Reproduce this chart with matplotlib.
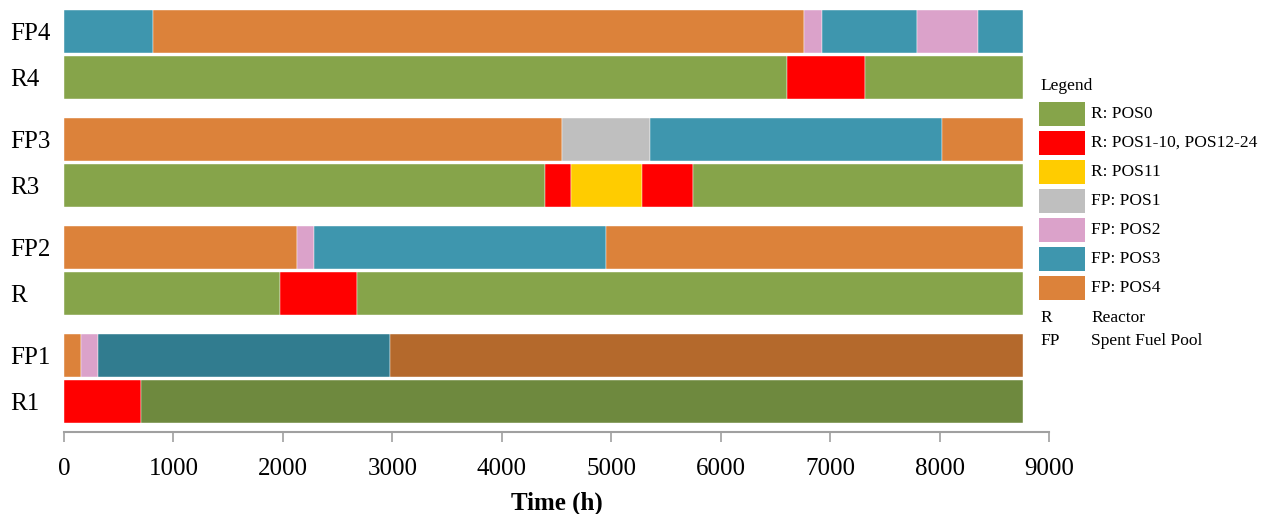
import matplotlib
matplotlib.use("Agg")
import matplotlib.pyplot as plt
from matplotlib.patches import Rectangle

# ---- data ----
rows = ["R1", "FP1", "R", "FP2", "R3", "FP3", "R4", "FP4"]
# segment boundaries (hours) per row
bounds = {
    "FP4": [0, 813, 6764, 6923, 7797, 8354, 8760],
    "R4":  [0, 6609, 7319, 8760],
    "FP3": [0, 4550, 5354, 8022, 8760],
    "R3":  [0, 4395, 4633, 5281, 5747, 8760],
    "FP2": [0, 2129, 2284, 4952, 8760],
    "R":   [0, 1974, 2677, 8760],
    "FP1": [0, 155, 311, 2979, 8760],
    "R1":  [0, 706, 8760],
}
states = {
    "FP4": ["FP3", "FP4", "FP2", "FP3", "FP2", "FP3"],
    "R4":  ["R0", "R1", "R0"],
    "FP3": ["FP4", "FP1", "FP3", "FP4"],
    "R3":  ["R0", "R1", "R11", "R1", "R0"],
    "FP2": ["FP4", "FP2", "FP3", "FP4"],
    "R":   ["R0", "R1", "R0"],
    "FP1": ["FP4", "FP2", "FP3d", "FP4d"],
    "R1":  ["R1", "R0d"],
}
legend_keys = ["R0", "R1", "R11", "FP1", "FP2", "FP3", "FP4"]
legend_labels = ["R: POS0", "R: POS1-10, POS12-24", "R: POS11", "FP: POS1",
                 "FP: POS2", "FP: POS3", "FP: POS4"]
abbrev = [("R", "Reactor"), ("FP", "Spent Fuel Pool")]
xticks = [0, 1000, 2000, 3000, 4000, 5000, 6000, 7000, 8000, 9000]

colors = {
    "R0": "#86A44A", "R0d": "#6E893E",
    "R1": "#FF0000", "R11": "#FFCC00",
    "FP1": "#BFBFBF", "FP2": "#DBA2CA",
    "FP3": "#3E96AE", "FP3d": "#317C8F",
    "FP4": "#DC823A", "FP4d": "#B4692C",
}

plt.rcParams["font.family"] = ["Liberation Serif", "DejaVu Serif"]

fig = plt.figure(figsize=(12.66, 5.14), dpi=100)
W, H = 1266, 514
ax = fig.add_axes([64 / W, 1 - 432 / H, (1049 - 64) / W, (432 - 9.5) / H])

group_gap = 108 / 46
ypos = []
for i, r in enumerate(rows):
    ypos.append((i // 2) * group_gap + (i % 2))
bar_h = 43 / 46

for r, y in zip(rows, ypos):
    b = bounds[r]
    segs = [(b[k], b[k + 1] - b[k]) for k in range(len(b) - 1)]
    ax.broken_barh(segs, (y - bar_h / 2, bar_h),
                   facecolors=[colors[s] for s in states[r]],
                   edgecolor="white", linewidth=0.3)

ax.set_xlim(0, 9000)
ax.set_ylim(-30.5 / 46, ypos[-1] + 21.5 / 46)
ax.set_yticks(ypos)
ax.set_yticklabels(rows, fontsize=18, ha="left")
ax.tick_params(axis="y", length=0, pad=39)
ax.set_xticks(xticks)
ax.set_xticklabels([str(t) for t in xticks], fontsize=18)
ax.tick_params(axis="x", direction="out", length=7, color="#A0A0A0", width=1.2, pad=12)
for s in ["top", "right", "left"]:
    ax.spines[s].set_visible(False)
ax.spines["bottom"].set_color("#A0A0A0")
ax.spines["bottom"].set_linewidth(1.5)
ax.set_xlabel("Time (h)", fontsize=18, fontweight="bold", labelpad=8)

# ---- legend (manual) ----
fs = 12.5
fig.text(1040 / W, 1 - 86 / H, "Legend", fontsize=fs, va="center", ha="left")
for k, (key, lab) in enumerate(zip(legend_keys, legend_labels)):
    yc = 114 + 29 * k
    fig.add_artist(Rectangle((1039 / W, 1 - (yc + 12) / H), 46 / W, 24 / H,
                             transform=fig.transFigure, facecolor=colors[key],
                             edgecolor="none"))
    fig.text(1091 / W, 1 - yc / H, lab, fontsize=fs, va="center", ha="left")
for k, (a, full) in enumerate(abbrev):
    yc = 318 + 23 * k
    fig.text(1040 / W, 1 - yc / H, a, fontsize=fs, va="center", ha="left")
    fig.text(1091 / W, 1 - yc / H, full, fontsize=fs, va="center", ha="left")

fig.savefig("out.png", dpi=100)
